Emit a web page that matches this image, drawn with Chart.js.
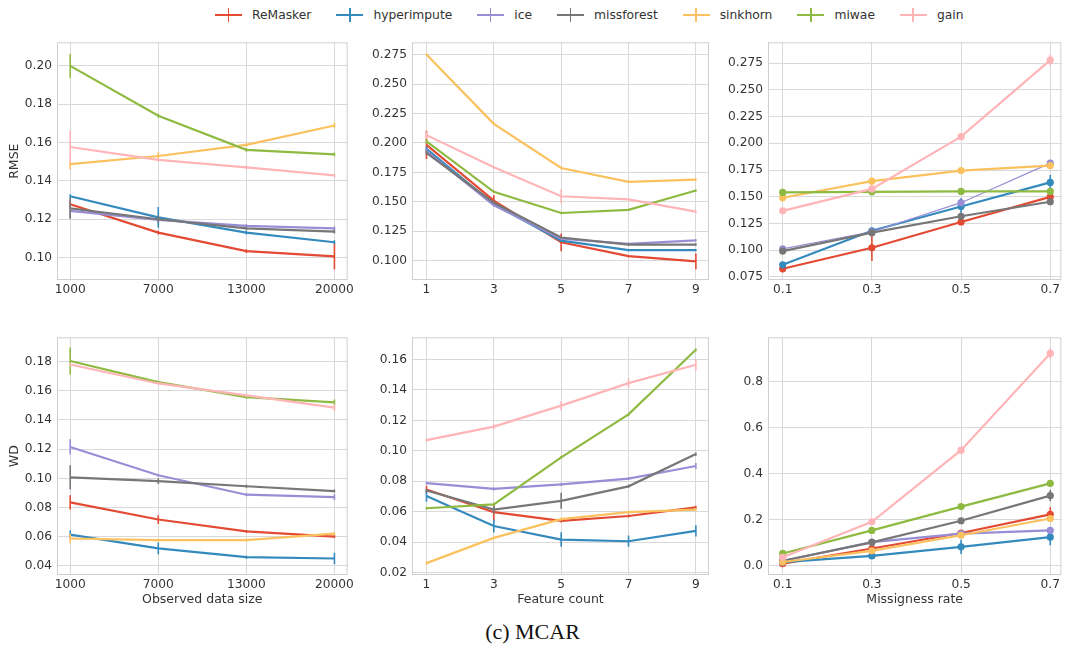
<!DOCTYPE html>
<html>
<head>
<meta charset="utf-8">
<script src="https://cdn.jsdelivr.net/npm/chart.js@4.4.1/dist/chart.umd.min.js"></script>
<style>
  html, body { margin: 0; padding: 0; background: #fff; overflow: hidden; }
  #fig { position: relative; width: 1065px; height: 649px; font-family: "DejaVu Sans", sans-serif; }
  #fig canvas { position: absolute; }
  #legend { position: absolute; left: 215px; top: 5px; display: flex; gap: 25px; font-size: 12.3px; color: #333; }
  #legend .item { display: flex; align-items: center; height: 19px; }
  #legend .mk { position: relative; width: 27px; height: 14px; margin-right: 10px; }
  #legend .mk::before { content: ''; position: absolute; left: 0; right: 0; top: 6px; height: 2px; background: var(--c); }
  #legend .mk::after { content: ''; position: absolute; left: 12.5px; width: 1.6px; top: 0; bottom: 0; background: var(--c); }
  #caption { position: absolute; left: 0; width: 1065px; top: 619px; text-align: center;
             font-family: "Liberation Serif", "Times New Roman", serif; font-size: 22px; color: #111; }
</style>
</head>
<body>
<div id="fig">
  <div id="legend"></div>
  <canvas id="c1"></canvas><canvas id="c2"></canvas><canvas id="c3"></canvas>
  <canvas id="c4"></canvas><canvas id="c5"></canvas><canvas id="c6"></canvas>
  <div id="caption">(c) MCAR</div>
</div>
<script>
// ---- dados ----
const methods = ['ReMasker', 'hyperimpute', 'ice', 'missforest', 'sinkhorn', 'miwae', 'gain'];
const colors = ['#E24A33', '#348ABD', '#988ED5', '#777777', '#FBC15E', '#8EBA42', '#FFB5B8'];

const sizeLabels = ['1000', '7000', '13000', '20000'];
const featureCounts = [1, 3, 5, 7, 9];
const missRates = [0.1, 0.3, 0.5, 0.7];

const ticksRmseSize = [0.10, 0.12, 0.14, 0.16, 0.18, 0.20];
const ticksRmseFeat = [0.100, 0.125, 0.150, 0.175, 0.200, 0.225, 0.250, 0.275];
const ticksRmseRate = [0.075, 0.100, 0.125, 0.150, 0.175, 0.200, 0.225, 0.250, 0.275];
const ticksWdSize = [0.04, 0.06, 0.08, 0.10, 0.12, 0.14, 0.16, 0.18];
const ticksWdFeat = [0.02, 0.04, 0.06, 0.08, 0.10, 0.12, 0.14, 0.16];
const ticksWdRate = [0.0, 0.2, 0.4, 0.6, 0.8];

// RMSE x tamanho observado (uma linha por método, mesma ordem de methods)
const rmseSize = [
  [0.1278, 0.1130, 0.1034, 0.1006],
  [0.1320, 0.1210, 0.1130, 0.1080],
  [0.1244, 0.1197, 0.1165, 0.1152],
  [0.1257, 0.1200, 0.1152, 0.1135],
  [0.1488, 0.1530, 0.1588, 0.1689],
  [0.2000, 0.1740, 0.1562, 0.1538],
  [0.1577, 0.1510, 0.1471, 0.1429]
];
const rmseSizeErr = [
  [0.002, 0.001, 0.001, 0.0067],
  [0.001, 0.0054, 0.001, 0.001],
  [0.004, 0.001, 0.001, 0.001],
  [0.0055, 0.002, 0.001, 0.001],
  [0.0027, 0.002, 0.001, 0.0015],
  [0.0062, 0.001, 0.001, 0.001],
  [0.0085, 0.001, 0.001, 0.001]
];

// RMSE x número de features
const rmseFeat = [
  [0.1984, 0.1510, 0.1156, 0.1039, 0.0994],
  [0.1950, 0.1478, 0.1170, 0.1090, 0.1090],
  [0.1930, 0.1470, 0.1186, 0.1142, 0.1172],
  [0.1916, 0.1492, 0.1197, 0.1137, 0.1137],
  [0.2750, 0.2162, 0.1787, 0.1670, 0.1689],
  [0.2012, 0.1585, 0.1405, 0.1432, 0.1596],
  [0.2066, 0.1793, 0.1547, 0.1520, 0.1416]
];
const rmseFeatErr = [
  [0.012, 0.0045, 0.0075, 0.001, 0.0067],
  [0.002, 0.001, 0.001, 0.001, 0.001],
  [0.002, 0.001, 0.001, 0.001, 0.001],
  [0.002, 0.001, 0.001, 0.001, 0.001],
  [0.001, 0.001, 0.001, 0.001, 0.001],
  [0.002, 0.001, 0.001, 0.001, 0.001],
  [0.003, 0.001, 0.006, 0.001, 0.001]
];

// RMSE x taxa de ausência
const rmseRate = [
  [0.0825, 0.1022, 0.1263, 0.1498],
  [0.0862, 0.1181, 0.1408, 0.1634],
  [0.1012, 0.1172, 0.1444, 0.1815],
  [0.0991, 0.1163, 0.1317, 0.1453],
  [0.1490, 0.1646, 0.1745, 0.1791],
  [0.1540, 0.1546, 0.1550, 0.1550],
  [0.1368, 0.1573, 0.2062, 0.2780]
];
const rmseRateErr = [
  [0.001, 0.0124, 0.002, 0.002],
  [0.001, 0.002, 0.008, 0.007],
  [0.001, 0.001, 0.002, 0.002],
  [0.001, 0.001, 0.002, 0.002],
  [0.001, 0.001, 0.001, 0.001],
  [0.001, 0.001, 0.001, 0.001],
  [0.001, 0.002, 0.003, 0.005]
];

// WD x tamanho observado
const wdSize = [
  [0.0835, 0.0718, 0.0637, 0.0601],
  [0.0615, 0.0520, 0.0460, 0.0451],
  [0.1215, 0.1021, 0.0888, 0.0871],
  [0.1007, 0.0981, 0.0946, 0.0913],
  [0.0588, 0.0577, 0.0577, 0.0621],
  [0.1804, 0.1659, 0.1557, 0.1520],
  [0.1780, 0.1650, 0.1568, 0.1484]
];
const wdSizeErr = [
  [0.0049, 0.003, 0.001, 0.001],
  [0.0028, 0.004, 0.001, 0.0039],
  [0.0052, 0.001, 0.001, 0.002],
  [0.0083, 0.002, 0.001, 0.001],
  [0.0033, 0.001, 0.001, 0.001],
  [0.0092, 0.001, 0.001, 0.002],
  [0.001, 0.001, 0.001, 0.0025]
];

// WD x número de features
const wdFeat = [
  [0.0745, 0.0596, 0.0539, 0.0571, 0.0628],
  [0.0702, 0.0505, 0.0416, 0.0405, 0.0473],
  [0.0787, 0.0749, 0.0779, 0.0817, 0.0900],
  [0.0739, 0.0613, 0.0671, 0.0766, 0.0978],
  [0.0261, 0.0427, 0.0550, 0.0596, 0.0613],
  [0.0622, 0.0647, 0.0957, 0.1239, 0.1664],
  [0.1070, 0.1159, 0.1297, 0.1445, 0.1566]
];
const wdFeatErr = [
  [0.0025, 0.0053, 0.001, 0.001, 0.001],
  [0.0037, 0.0042, 0.0048, 0.0037, 0.0037],
  [0.001, 0.001, 0.001, 0.001, 0.002],
  [0.001, 0.0025, 0.0053, 0.001, 0.001],
  [0.001, 0.001, 0.001, 0.001, 0.001],
  [0.001, 0.001, 0.001, 0.001, 0.001],
  [0.001, 0.0017, 0.003, 0.003, 0.0037]
];

// WD x taxa de ausência
const wdRate = [
  [0.0083, 0.0740, 0.1415, 0.2227],
  [0.0150, 0.0420, 0.0815, 0.1233],
  [0.0200, 0.1020, 0.1387, 0.1527],
  [0.0210, 0.1009, 0.1947, 0.3040],
  [0.0154, 0.0640, 0.1317, 0.2045],
  [0.0527, 0.1527, 0.2563, 0.3572],
  [0.0360, 0.1905, 0.5016, 0.9220]
];
const wdRateErr = [
  [0.003, 0.005, 0.01, 0.031],
  [0.003, 0.005, 0.031, 0.035],
  [0.003, 0.005, 0.005, 0.008],
  [0.003, 0.006, 0.008, 0.024],
  [0.003, 0.005, 0.005, 0.008],
  [0.003, 0.005, 0.005, 0.008],
  [0.003, 0.005, 0.005, 0.023]
];

// ---- legenda comum ----
const legendEl = document.getElementById('legend');
methods.forEach((m, i) => {
  const it = document.createElement('div');
  it.className = 'item';
  it.innerHTML = '<span class="mk" style="--c:' + colors[i] + '"></span><span>' + m + '</span>';
  legendEl.appendChild(it);
});

// barras de erro verticais (sem cap) + moldura do eixo
const errorBars = {
  id: 'errorBars',
  beforeDatasetsDraw(chart) {
    const { ctx, chartArea: a } = chart;
    ctx.save();
    ctx.strokeStyle = '#cfcfcf';
    ctx.lineWidth = 1;
    ctx.strokeRect(a.left + 0.5, a.top + 0.5, a.right - a.left - 1, a.bottom - a.top - 1);
    ctx.restore();
  },
  afterDatasetDraw(chart, args) {
    const ds = chart.data.datasets[args.index];
    if (!ds.errors) return;
    const ys = chart.scales.y;
    const ctx = chart.ctx;
    const a = chart.chartArea;
    ctx.save();
    ctx.beginPath();
    ctx.rect(a.left, a.top, a.right - a.left, a.bottom - a.top);
    ctx.clip();
    ctx.strokeStyle = ds.borderColor;
    ctx.lineWidth = 1.6;
    ctx.beginPath();
    args.meta.data.forEach((pt, i) => {
      const e = ds.errors[i];
      if (!e) return;
      const v = ds.data[i].y;
      ctx.moveTo(pt.x, ys.getPixelForValue(v - e));
      ctx.lineTo(pt.x, ys.getPixelForValue(v + e));
    });
    ctx.stroke();
    ctx.restore();
  }
};

const tickFont = { family: 'DejaVu Sans', size: 12.2 };
const titleFont = { family: 'DejaVu Sans', size: 12.5 };

function makePanel(p) {
  const canvas = document.getElementById(p.id);
  const padTop = 4, padRight = p.padRight;
  const w = p.axisW + p.plotW + padRight;
  const h = padTop + p.plotH + p.xh;
  canvas.width = w; canvas.height = h;
  canvas.style.left = p.left + 'px';
  canvas.style.top = p.top + 'px';

  const datasets = methods.map((m, i) => ({
    label: m,
    data: p.xs.map((x, j) => ({ x: x, y: p.values[i][j] })),
    errors: p.errors[i],
    borderColor: colors[i],
    backgroundColor: colors[i],
    borderWidth: (p.thinIce && i === 2) ? 1.2 : 2.2,
    pointRadius: p.markers ? 3.6 : 0,
    pointBorderWidth: 0,
    pointHoverRadius: 0,
    tension: 0,
    order: methods.length - 1 - i
  }));

  const grid = { color: '#d9d9d9', lineWidth: 1, drawTicks: false };

  return new Chart(canvas.getContext('2d'), {
    type: 'line',
    data: { datasets },
    options: {
      responsive: false,
      animation: false,
      devicePixelRatio: 1,
      layout: { padding: { top: padTop, right: padRight, left: 0, bottom: 0 } },
      plugins: { legend: { display: false }, tooltip: { enabled: false } },
      scales: {
        x: {
          type: 'linear',
          min: p.xMin, max: p.xMax,
          afterBuildTicks: s => { s.ticks = p.xs.map(v => ({ value: v })); },
          afterFit: s => { s.height = p.xh; },
          ticks: {
            autoSkip: false, maxRotation: 0, padding: 3, color: '#333', font: tickFont,
            callback: (v, i) => p.xLabels[i]
          },
          grid: grid,
          border: { display: false },
          title: {
            display: !!p.xTitle, text: p.xTitle || '', color: '#333', font: titleFont,
            padding: { top: 0, bottom: 12 }
          }
        },
        y: {
          type: 'linear',
          min: p.yMin, max: p.yMax,
          afterBuildTicks: s => { s.ticks = p.yTicks.map(v => ({ value: v })); },
          afterFit: s => { s.width = p.axisW; },
          ticks: {
            padding: 5, color: '#333', font: tickFont,
            callback: v => v.toFixed(p.dec)
          },
          grid: grid,
          border: { display: false },
          title: {
            display: !!p.yTitle, text: p.yTitle || '', color: '#333', font: titleFont,
            padding: { top: 7, bottom: 0 }
          }
        }
      }
    },
    plugins: [errorBars]
  });
}

const sizeIdx = sizeLabels.map((s, i) => i);
const featLabels = featureCounts.map(String);
const rateLabels = missRates.map(v => v.toFixed(1));

makePanel({ id: 'c1', left: 0, top: 30, axisW: 57, plotW: 296, plotH: 246, xh: 22, padRight: 4,
  xs: sizeIdx, xLabels: sizeLabels, xMin: -0.15, xMax: 3.15,
  yMin: 0.0883, yMax: 0.2123, yTicks: ticksRmseSize, dec: 2, yTitle: 'RMSE',
  values: rmseSize, errors: rmseSizeErr });
makePanel({ id: 'c2', left: 362, top: 30, axisW: 50, plotW: 297, plotH: 246, xh: 22, padRight: 4,
  xs: featureCounts, xLabels: featLabels, xMin: 0.57, xMax: 9.39,
  yMin: 0.0836, yMax: 0.2854, yTicks: ticksRmseFeat, dec: 3,
  values: rmseFeat, errors: rmseFeatErr });
makePanel({ id: 'c3', left: 718, top: 30, axisW: 50, plotW: 296, plotH: 246, xh: 22, padRight: 1,
  xs: missRates, xLabels: rateLabels, xMin: 0.067, xMax: 0.725, markers: true, thinIce: true,
  yMin: 0.072, yMax: 0.2946, yTicks: ticksRmseRate, dec: 3,
  values: rmseRate, errors: rmseRateErr });
makePanel({ id: 'c4', left: 0, top: 325, axisW: 57, plotW: 296, plotH: 246, xh: 44, padRight: 4,
  xs: sizeIdx, xLabels: sizeLabels, xMin: -0.15, xMax: 3.15, xTitle: 'Observed data size',
  yMin: 0.0338, yMax: 0.1966, yTicks: ticksWdSize, dec: 2, yTitle: 'WD',
  values: wdSize, errors: wdSizeErr });
makePanel({ id: 'c5', left: 362, top: 325, axisW: 50, plotW: 297, plotH: 246, xh: 44, padRight: 4,
  xs: featureCounts, xLabels: featLabels, xMin: 0.57, xMax: 9.39, xTitle: 'Feature count',
  yMin: 0.0183, yMax: 0.1746, yTicks: ticksWdFeat, dec: 2,
  values: wdFeat, errors: wdFeatErr });
makePanel({ id: 'c6', left: 718, top: 325, axisW: 50, plotW: 296, plotH: 246, xh: 44, padRight: 1,
  xs: missRates, xLabels: rateLabels, xMin: 0.067, xMax: 0.725, markers: true, xTitle: 'Missigness rate',
  yMin: -0.041, yMax: 0.992, yTicks: ticksWdRate, dec: 1,
  values: wdRate, errors: wdRateErr });
</script>
</body>
</html>
